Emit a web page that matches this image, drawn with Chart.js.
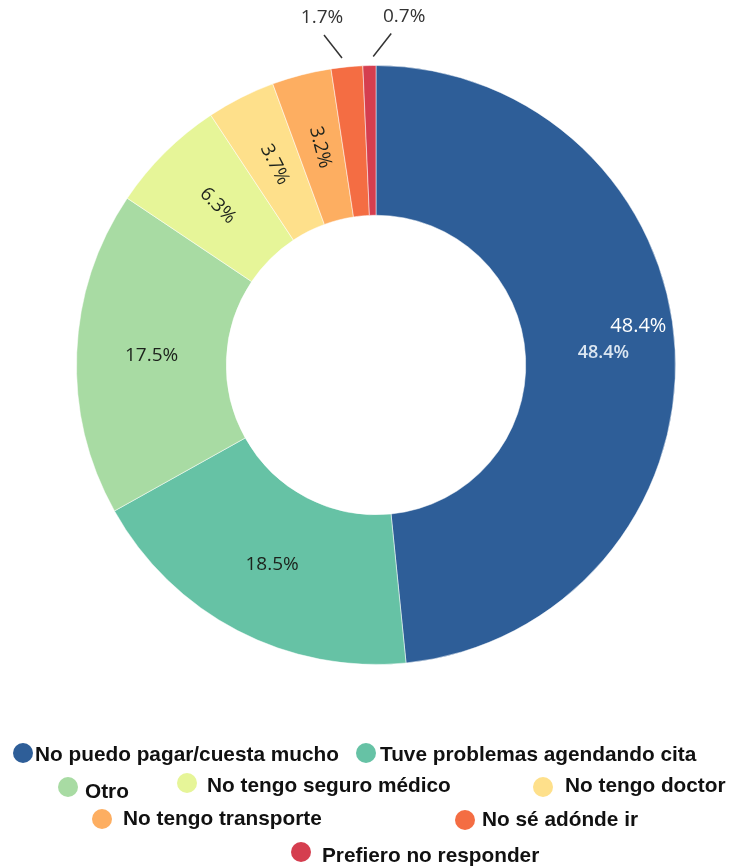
<!DOCTYPE html>
<html>
<head>
<meta charset="utf-8">
<script src="https://cdn.jsdelivr.net/npm/chart.js@4/dist/chart.umd.min.js"></script>
<style>
html,body{margin:0;padding:0;background:#ffffff;}
#wrap{width:730px;height:866px;position:relative;}
</style>
</head>
<body>
<div id="wrap"><canvas id="c" width="730" height="866"></canvas></div>
<script>
// ---- data ----
const categories = [
  'No puedo pagar/cuesta mucho',
  'Tuve problemas agendando cita',
  'Otro',
  'No tengo seguro médico',
  'No tengo doctor',
  'No tengo transporte',
  'No sé adónde ir',
  'Prefiero no responder'
];
const percentValues = [48.4, 18.5, 17.5, 6.3, 3.7, 3.2, 1.7, 0.7];
const valueLabels = ['48.4%', '18.5%', '17.5%', '6.3%', '3.7%', '3.2%', '1.7%', '0.7%'];
const sliceColors = ['#2E5E98', '#66C2A5', '#A8DBA3', '#E6F598', '#FEE08B', '#FDAE61', '#F46D43', '#D53E4F'];

// ---- layout / style (not data) ----
const legendLayout = [
  {cx: 23,  cy: 753, tx: 35,  ty: 761},
  {cx: 366, cy: 753, tx: 380, ty: 761},
  {cx: 68,  cy: 787, tx: 85,  ty: 798},
  {cx: 187, cy: 783, tx: 207, ty: 792},
  {cx: 543, cy: 787, tx: 565, ty: 792},
  {cx: 102, cy: 819, tx: 123, ty: 825},
  {cx: 465, cy: 820, tx: 482, ty: 826},
  {cx: 301, cy: 852, tx: 322, ty: 862}
];
// outside labels: horizontal direction of leader line and text x shift
const outsideLabelStyle = {
  6: {dir: -1, textShift: -2},
  7: {dir: 1, textShift: 13}
};

const sliceLabelPlugin = {
  id: 'sliceLabels',
  afterDatasetsDraw(chart) {
    const c = chart.ctx;
    const meta = chart.getDatasetMeta(0);
    meta.data.forEach((arc, i) => {
      const p = arc.getProps(['x','y','startAngle','endAngle','innerRadius','outerRadius'], true);
      const mid = (p.startAngle + p.endAngle) / 2;
      const text = valueLabels[i];
      c.save();
      if (outsideLabelStyle[i]) {
        const st = outsideLabelStyle[i];
        const r = p.outerRadius + 9;
        const sx = p.x + Math.cos(mid) * r + st.dir * 4;
        const sy = p.y + Math.sin(mid) * r;
        const ex = sx + st.dir * 18;
        const ey = sy - 23;
        c.strokeStyle = '#333333';
        c.lineWidth = 1.5;
        c.beginPath();
        c.moveTo(sx, sy);
        c.lineTo(ex, ey);
        c.stroke();
        c.font = '19px "Open Sans", sans-serif';
        c.fillStyle = '#333333';
        c.textAlign = 'center';
        c.textBaseline = 'middle';
        c.fillText(text, ex + st.textShift, ey - 17);
      } else {
        const rMid = (p.innerRadius + p.outerRadius) / 2;
        const x = p.x + Math.cos(mid) * rMid;
        const y = p.y + Math.sin(mid) * rMid;
        c.textAlign = 'center';
        c.textBaseline = 'middle';
        if (i === 0) {
          c.font = '600 18px "Open Sans", sans-serif';
          c.fillStyle = '#dbe6f1';
          c.fillText(text, x + 3, y - 1);
          c.font = '20px "Open Sans", sans-serif';
          c.fillStyle = '#ffffff';
          c.fillText(text, x + 38, y - 27);
        } else {
          c.translate(x, y);
          if (percentValues[i] < 7) c.rotate(mid + Math.PI);
          c.font = '19px "Open Sans", sans-serif';
          c.fillStyle = '#1c221c';
          c.fillText(text, 0, 0);
        }
      }
      c.restore();
    });
  }
};

const customLegendPlugin = {
  id: 'customLegend',
  afterDraw(chart) {
    const c = chart.ctx;
    c.save();
    categories.forEach((name, i) => {
      const L = legendLayout[i];
      c.beginPath();
      c.arc(L.cx, L.cy, 10, 0, Math.PI * 2);
      c.fillStyle = sliceColors[i];
      c.fill();
      c.font = 'bold 20.8px "Liberation Sans", Arial, sans-serif';
      c.fillStyle = '#111111';
      c.textAlign = 'left';
      c.textBaseline = 'alphabetic';
      c.fillText(name, L.tx, L.ty);
    });
    c.restore();
  }
};

new Chart(document.getElementById('c').getContext('2d'), {
  type: 'doughnut',
  data: {
    labels: categories,
    datasets: [{
      data: percentValues,
      backgroundColor: sliceColors,
      borderColor: 'rgba(255,255,255,0.5)',
      borderWidth: 1
    }]
  },
  options: {
    responsive: false,
    animation: false,
    cutout: '50%',
    events: [],
    layout: {padding: {left: 76, right: 54, top: 65, bottom: 201}},
    plugins: {
      legend: {display: false},
      tooltip: {enabled: false}
    }
  },
  plugins: [sliceLabelPlugin, customLegendPlugin]
});
</script>
</body>
</html>
